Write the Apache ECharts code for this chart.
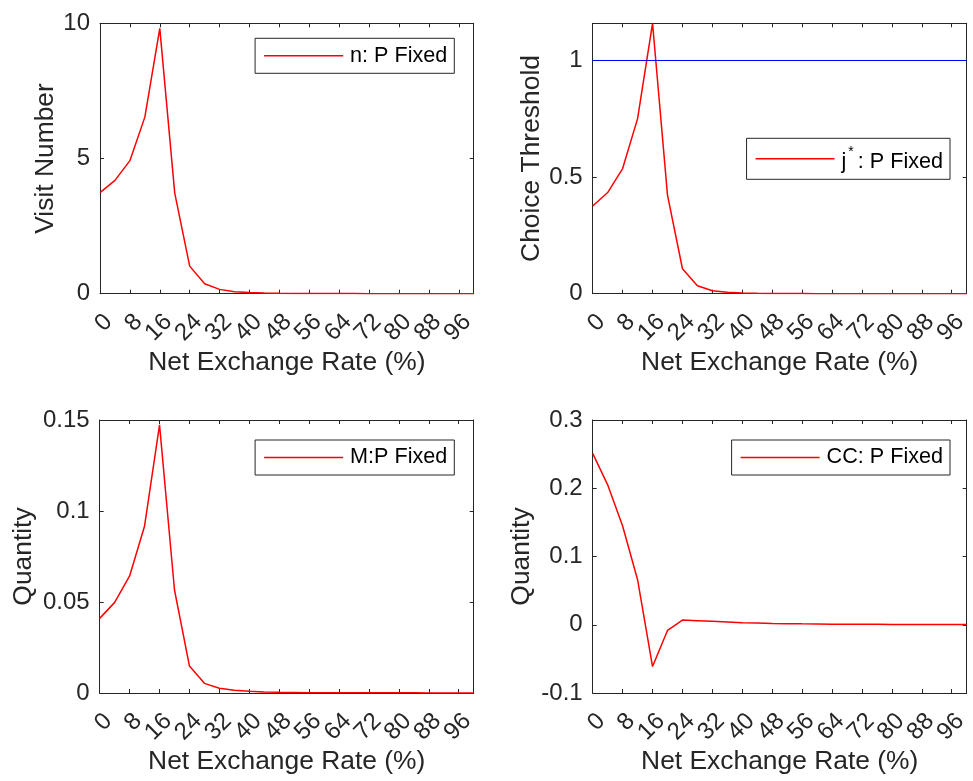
<!DOCTYPE html>
<html>
<head>
<meta charset="utf-8">
<title>Net Exchange Rate panels</title>
<script src="https://cdn.jsdelivr.net/npm/echarts@6.0.0/dist/echarts.min.js"></script>
<style>
  html, body { margin: 0; padding: 0; background: #ffffff; }
  #chart { width: 973px; height: 781px; }
</style>
</head>
<body>
<div id="chart"></div>
<script>
// Net exchange rate grid (%)
const rate = [0, 4, 8, 12, 16, 20, 24, 28, 32, 36, 40, 44, 48, 52, 56, 60, 64, 68, 72, 76, 80, 84, 88, 92, 96, 100];
const rateTickStep = 8;

// n: visit number, P fixed
const visitNumber = [3.74, 4.19, 4.92, 6.53, 9.81, 3.72, 1.02, 0.37, 0.16, 0.075, 0.04, 0.025, 0.015, 0.01, 0.007, 0.005,
  0.004, 0.003, 0.002, 0.002, 0.0015, 0.001, 0.001, 0.001, 0.0005, 0.0005];

// j*: choice threshold, P fixed
const choiceThreshold = [0.376, 0.434, 0.537, 0.751, 1.16, 0.423, 0.107, 0.034, 0.013, 0.006, 0.003, 0.0015, 0.001,
  0.0006, 0.0004, 0.0003, 0.0002, 0.0002, 0.0001, 0.0001, 0.0001, 0.0001, 0.0001, 0.0001, 0.0001, 0.0001];
const thresholdLevel = 1;

// M: money quantity, P fixed
const moneyQty = [0.041, 0.0498, 0.0643, 0.0918, 0.1473, 0.0566, 0.0148, 0.0053, 0.0026, 0.0015, 0.0009, 0.0006, 0.0004,
  0.0003, 0.0002, 0.0002, 0.0001, 0.0001, 0.0001, 0.0001, 0.0001, 0.0001, 0, 0, 0, 0];

// CC: quantity, P fixed
const ccQty = [0.251, 0.205, 0.1446, 0.066, -0.0613, -0.0083, 0.0068, 0.006, 0.005, 0.004, 0.003, 0.0025, 0.002, 0.0016,
  0.0013, 0.0011, 0.0009, 0.0008, 0.0007, 0.0006, 0.0005, 0.0004, 0.0003, 0.0003, 0.0002, 0.0002];

const seriesNames = ['n: P Fixed', 'j*: P Fixed', 'M:P Fixed', 'CC: P Fixed'];
const yTitles = ['Visit Number', 'Choice Threshold', 'Quantity', 'Quantity'];
const xTitle = 'Net Exchange Rate (%)';

const FONT = '"Liberation Sans", Arial, Helvetica, sans-serif';
const INK = '#262626';
const RED = '#ff0000';
const BLUE = '#0000ff';

// panel geometry and y scales
const panels = [
  { values: visitNumber, left: 100, top: 23.3, width: 373.7, height: 270.4,
    yMin: 0, yMax: 10, yStep: 5, yGap: 41, legendRight: 518.7, legendTop: 38.3 },
  { values: choiceThreshold, left: 592.7, top: 23.3, width: 374, height: 270.4,
    yMin: 0, yMax: Math.max.apply(null, choiceThreshold), yStep: 0.5, yGap: 47.7, legendRight: 23, legendTop: 138.3 },
  { values: moneyQty, left: 99.7, top: 420, width: 374, height: 273,
    yMin: 0, yMax: 0.15, yStep: 0.05, yGap: 63, legendRight: 518.7, legendTop: 440 },
  { values: ccQty, left: 592.7, top: 420, width: 374, height: 273,
    yMin: -0.1, yMax: 0.3, yStep: 0.1, yGap: 57.5, legendRight: 23, legendTop: 440 }
];

const lineStyleInk = { color: INK, width: 1 };
const grids = [], xAxes = [], yAxes = [], series = [], legends = [];

function onStep(v, step) {
  const r = (v / step) % 1;
  return r < 1e-9 || r > 1 - 1e-9;
}

panels.forEach(function (p, i) {
  grids.push({ left: p.left, top: p.top, width: p.width, height: p.height, containLabel: false });

  const xBase = {
    gridIndex: i, type: 'value', min: rate[0], max: rate[rate.length - 1], interval: rateTickStep,
    splitLine: { show: false },
    axisLine: { show: true, onZero: false, lineStyle: lineStyleInk },
    axisTick: { show: true, inside: true, length: 4, lineStyle: lineStyleInk }
  };
  xAxes.push(Object.assign({}, xBase, {
    position: 'bottom',
    axisLabel: { show: true, rotate: 45, align: 'right', verticalAlign: 'top', margin: 16,
      fontSize: 24, fontFamily: FONT, color: INK, showMaxLabel: false, showMinLabel: true },
    name: xTitle, nameLocation: 'middle', nameGap: 56,
    nameTextStyle: { fontSize: 26.4, fontFamily: FONT, color: INK }
  }));
  xAxes.push(Object.assign({}, xBase, { position: 'top', axisLabel: { show: false } }));

  const yBase = {
    gridIndex: i, type: 'value', min: p.yMin, max: p.yMax, interval: p.yStep,
    splitLine: { show: false },
    axisLine: { show: true, onZero: false, lineStyle: lineStyleInk },
    axisTick: { show: true, inside: true, length: 4, lineStyle: lineStyleInk }
  };
  yAxes.push(Object.assign({}, yBase, {
    position: 'left',
    axisLabel: { show: true, margin: 10, fontSize: 24, fontFamily: FONT, color: INK,
      showMaxLabel: onStep(p.yMax, p.yStep) },
    name: yTitles[i], nameLocation: 'middle', nameGap: p.yGap,
    nameTextStyle: { fontSize: 26.4, fontFamily: FONT, color: INK }
  }));
  yAxes.push(Object.assign({}, yBase, { position: 'right', axisLabel: { show: false } }));

  const s = {
    type: 'line', name: seriesNames[i], xAxisIndex: 2 * i, yAxisIndex: 2 * i,
    data: rate.map(function (x, k) { return [x, p.values[k]]; }),
    symbol: 'none', showSymbol: false, smooth: false, clip: true,
    lineStyle: { color: RED, width: 1.5 }, itemStyle: { color: RED },
    animation: false, silent: true
  };
  if (i === 1) {
    s.markLine = {
      silent: true, symbol: ['none', 'none'], label: { show: false },
      lineStyle: { color: BLUE, width: 1, type: 'solid' },
      data: [{ yAxis: thresholdLevel }], animation: false
    };
  }
  series.push(s);

  const legend = {
    data: [{ name: seriesNames[i], icon: 'rect' }], right: p.legendRight, top: p.legendTop, orient: 'vertical',
    itemWidth: 79, itemHeight: 1.5, itemGap: 0,
    padding: [6.5, 7, 6.5, 9],
    borderColor: INK, borderWidth: 1, borderRadius: 0, backgroundColor: '#ffffff',
    selectedMode: false,
    itemStyle: { color: RED, borderWidth: 0 },
    textStyle: { fontSize: 21.6, fontFamily: FONT, color: '#000000', padding: [0, 0, 0, 2] }
  };
  if (i === 1) {
    legend.formatter = function () { return '{a|j}{s|*}{a|: P Fixed}'; };
    legend.textStyle.rich = {
      a: { fontSize: 21.6, fontFamily: FONT, color: '#000000', lineHeight: 28, verticalAlign: 'bottom' },
      s: { fontSize: 14, fontFamily: FONT, color: '#000000', lineHeight: 28, verticalAlign: 'top',
           padding: [0, 4, 0, 2] }
    };
  }
  legends.push(legend);
});

const chart = echarts.init(document.getElementById('chart'), null, { renderer: 'canvas' });
chart.setOption({
  animation: false,
  backgroundColor: '#ffffff',
  grid: grids,
  xAxis: xAxes,
  yAxis: yAxes,
  legend: legends,
  series: series
});
</script>
</body>
</html>
